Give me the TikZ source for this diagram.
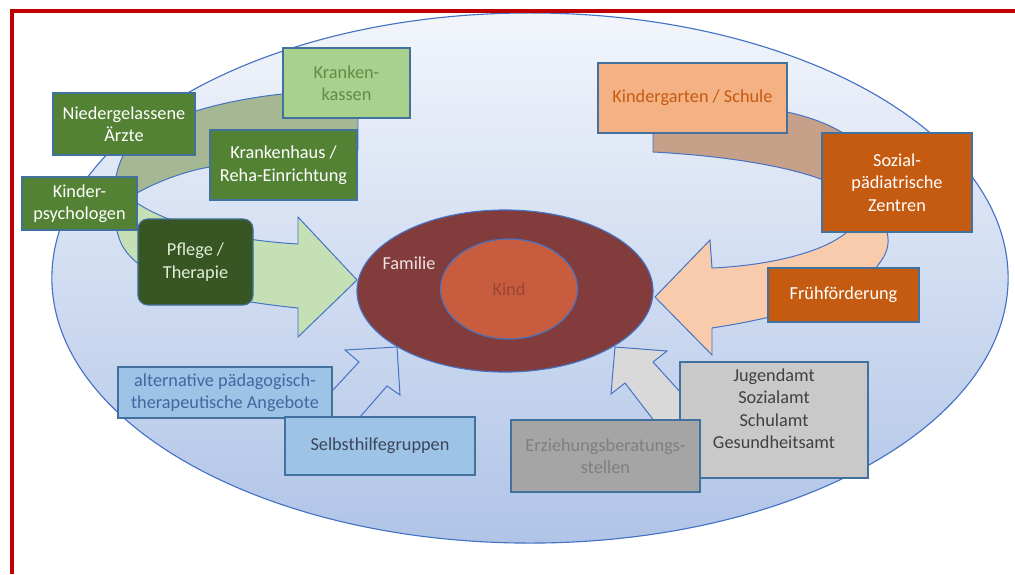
\documentclass[tikz,border=0pt]{standalone}
\usepackage{fontspec}
\setmainfont{Carlito}
\usetikzlibrary{shapes.geometric}

\definecolor{frameRed}{RGB}{192,0,0}
\definecolor{edgeBlue}{RGB}{68,114,196}
\definecolor{boxEdge}{RGB}{65,113,156}
\definecolor{ellTop}{RGB}{242,245,251}
\definecolor{ellBot}{RGB}{176,196,231}
\definecolor{famRed}{RGB}{130,60,60}
\definecolor{famText}{RGB}{240,226,226}
\definecolor{kindRed}{RGB}{200,92,62}
\definecolor{kindText}{RGB}{150,72,48}
\definecolor{docGreen}{RGB}{84,130,53}
\definecolor{darkGreen}{RGB}{55,86,35}
\definecolor{paleGreen}{RGB}{169,209,142}
\definecolor{kassenText}{RGB}{96,140,70}
\definecolor{pflegeText}{RGB}{226,239,218}
\definecolor{bandGreen}{RGB}{197,224,180}
\definecolor{bandOlive}{RGB}{166,183,148}
\definecolor{peach}{RGB}{244,177,131}
\definecolor{bandPeach}{RGB}{248,203,173}
\definecolor{bandTan}{RGB}{198,160,136}
\definecolor{rust}{RGB}{197,90,17}
\definecolor{skyBlue}{RGB}{157,195,230}
\definecolor{altText}{RGB}{64,104,160}
\definecolor{selbstText}{RGB}{60,70,90}
\definecolor{amtGray}{RGB}{201,201,201}
\definecolor{amtText}{RGB}{64,64,64}
\definecolor{erzGray}{RGB}{165,165,165}
\definecolor{erzText}{RGB}{127,127,127}
\definecolor{arrowGray}{RGB}{217,217,217}

\begin{document}
\begin{tikzpicture}[
  x=0.025cm, y=-0.025cm,
  box/.style={draw=boxEdge,line width=0.8pt,align=center,inner sep=2pt,
    font=\fontsize{13}{16}\selectfont},
  docbox/.style={box,fill=docGreen,text=white},
  rustbox/.style={box,fill=rust,text=white},
  band/.style={draw=edgeBlue,line width=0.7pt,line join=miter},
  ring/.style={ellipse,draw=edgeBlue,line width=0.8pt},
]
\useasboundingbox (0,0) rectangle (1015,574);

% Outer ellipse
\node[ring,top color=ellTop,bottom color=ellBot,
  minimum width=23.9cm,minimum height=13.25cm] (umfeld) at (530,278) {};

% Green care arrow
\draw[band,fill=bandGreen,path picture={
    \fill[bandOlive] (path picture bounding box.north west)
      rectangle ([yshift=-2.75cm]path picture bounding box.north east);}]
  (358,90) .. controls (270,90) and (190,105) .. (140,135)
  .. controls (105,160) and (110,230) .. (125,250)
  .. controls (150,285) and (220,300) .. (298,308)
  -- (298,337) -- (357,280) -- (298,217) -- (298,244)
  .. controls (230,240) and (170,225) .. (137,203)
  .. controls (118,197) and (118,195) .. (137,193)
  .. controls (160,180) and (190,170) .. (210,167)
  .. controls (260,158) and (310,152) .. (358,150) -- cycle;

% Orange school arrow
\draw[band,fill=bandPeach,path picture={
    \fill[bandTan] (path picture bounding box.north west)
      rectangle ([yshift=-2.425cm]path picture bounding box.north east);}]
  (653,152) .. controls (730,156) and (800,168) .. (835,185)
  .. controls (860,200) and (862,222) .. (847,232)
  .. controls (820,255) and (760,266) .. (712,268)
  -- (710,240) -- (655,297) -- (712,355) -- (712,328)
  .. controls (790,316) and (860,295) .. (878,265)
  .. controls (890,250) and (890,240) .. (885,225)
  .. controls (880,180) and (860,150) .. (843,133)
  .. controls (825,122) and (805,116) .. (787,112)
  .. controls (745,103) and (700,103) .. (653,103) -- cycle;

% Outline arrow and grey arrow
\draw[band] (320,404) -- (359,362) -- (345,350) -- (397,347)
  -- (400,395) -- (387,386) -- (347,432);
\draw[band,fill=arrowGray] (665,435) -- (625,383) -- (611,394) -- (615,347)
  -- (667,351) -- (653,362) -- (700,414) -- cycle;

% Family and child
\node[ring,fill=famRed,minimum width=7.4cm,minimum height=4.05cm] (familie) at (505,291) {};
\node[ring,fill=kindRed,text=kindText,font=\fontsize{13}{16}\selectfont,
  minimum width=3.425cm,minimum height=2.5cm] (kind) at (509,289) {Kind};
\node[text=famText,font=\fontsize{13}{16}\selectfont] (famlabel) at (409,263) {Familie};

% Medical boxes
\node[docbox,minimum width=3.55cm,minimum height=1.55cm] (aerzte) at (124,124) {Niedergelassene\\Ärzte};
\node[box,fill=paleGreen,text=kassenText,minimum width=3.175cm,minimum height=1.75cm] (kassen) at (346.5,83) {Kranken-\\kassen};
\node[docbox,minimum width=3.675cm,minimum height=1.75cm] (krankenhaus) at (283.5,165) {Krankenhaus /\\Reha-Einrichtung};
\node[docbox,minimum width=2.875cm,minimum height=1.325cm] (psycho) at (79.5,203.5) {Kinder-\\psychologen};
\node[box,fill=darkGreen,text=pflegeText,rounded corners=7pt,
  minimum width=2.875cm,minimum height=2.15cm] (pflege) at (195.5,262) {Pflege /\\Therapie};

% School and support boxes
\node[box,fill=peach,text=rust,minimum width=4.725cm,minimum height=1.75cm] (kiga) at (692.5,98) {Kindergarten / Schule};
\node[rustbox,minimum width=3.75cm,minimum height=2.475cm] (spz) at (897,182.5) {Sozial-\\pädiatrische\\Zentren};
\node[rustbox,minimum width=3.775cm,minimum height=1.35cm] (frueh) at (843.5,295) {Frühförderung};

% Lower boxes
\node[box,fill=skyBlue,text=altText,minimum width=5.35cm,minimum height=1.275cm] (alternativ) at (225,392.5) {alternative pädagogisch-\\therapeutische Angebote};
\node[box,fill=skyBlue,text=selbstText,minimum width=4.75cm,minimum height=1.45cm] (selbsthilfe) at (380,446) {Selbsthilfegruppen};
\node[box,fill=amtGray,text=amtText,minimum width=4.7cm,minimum height=2.9cm] (aemter) at (774,420) {Jugendamt\\Sozialamt\\Schulamt\\Gesundheitsamt\\~};
\node[box,fill=erzGray,text=erzText,minimum width=4.725cm,minimum height=1.8cm] (beratung) at (605.5,456) {Erziehungsberatungs-\\stellen};

% Frame
\draw[frameRed,line width=2.2pt] (1015,11) -- (12,11) -- (12,574);

\end{tikzpicture}
\end{document}
